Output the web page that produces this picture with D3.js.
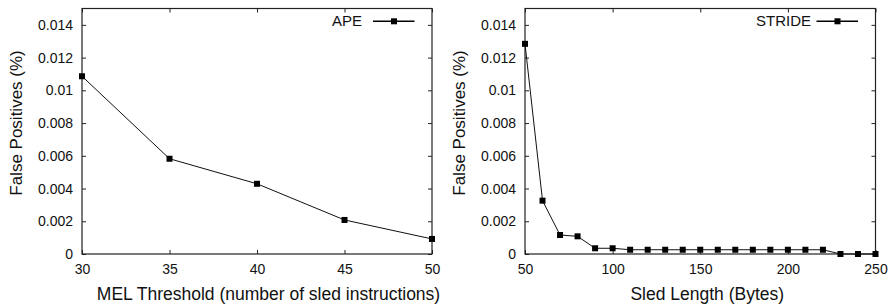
<!DOCTYPE html>
<html lang="en">
<head>
  <meta charset="UTF-8">
  <title>False Positives</title>
  <script src="https://d3js.org/d3.v7.min.js"></script>
  <style>
    body, html { margin: 0; padding: 0; background: #fff; }
    svg { display: block; font-family: 'Liberation Sans', Arial, sans-serif; }
    .tick text { font-size: 14px; fill: #111; }
    .lbl { fill: #111; }
  </style>
</head>
<body>
  <svg id="chart" width="893" height="304"></svg>
  <script>
    // left panel: MEL threshold vs false positives (APE)
    const apeX = [30, 35, 40, 45, 50];
    const apeY = [0.01086, 0.00582, 0.00429, 0.00208, 0.00092];

    // right panel: sled length vs false positives (STRIDE)
    const strideX = [50, 60, 70, 80, 90, 100, 110, 120, 130, 140, 150, 160, 170, 180, 190, 200, 210, 220, 230, 240, 250];
    const strideY = [0.01284, 0.00326, 0.00116, 0.00108, 0.00035, 0.00035, 0.00026, 0.00026, 0.00026, 0.00026,
                     0.00026, 0.00026, 0.00026, 0.00026, 0.00026, 0.00026, 0.00026, 0.00026, 0, 0, 0];

    const yTicks = [0, 0.002, 0.004, 0.006, 0.008, 0.01, 0.012, 0.014];
    const apeTicks = [30, 35, 40, 45, 50];
    const strideTicks = [50, 100, 150, 200, 250];

    const svg = d3.select("#chart");
    const plotTop = 8.5, plotBottom = 254;

    function panel(left, right, xs, ys, xTicks, xDomain, xTitle, titleShift, name, nameGap) {
      const g = svg.append("g");
      const x = d3.scaleLinear().domain(xDomain).range([left, right]);
      const y = d3.scaleLinear().domain([0, 0.015]).range([plotBottom, plotTop]);

      // inward ticks on all four sides (gnuplot mirror style)
      const axB = g.append("g").attr("transform", `translate(0,${plotBottom})`)
        .call(d3.axisBottom(x).tickValues(xTicks).tickSizeInner(-4).tickSizeOuter(0).tickPadding(10).tickFormat(d3.format("d")));
      const axT = g.append("g").attr("transform", `translate(0,${plotTop})`)
        .call(d3.axisTop(x).tickValues(xTicks).tickSizeInner(-4).tickSizeOuter(0).tickFormat(""));
      const axL = g.append("g").attr("transform", `translate(${left},0)`)
        .call(d3.axisLeft(y).tickValues(yTicks).tickSizeInner(-4).tickSizeOuter(0).tickPadding(9).tickFormat(d => d === 0 ? "0" : String(+d.toFixed(3))));
      const axR = g.append("g").attr("transform", `translate(${right},0)`)
        .call(d3.axisRight(y).tickValues(yTicks).tickSizeInner(-4).tickSizeOuter(0).tickFormat(""));
      [axB, axT, axL, axR].forEach(a => {
        a.select(".domain").remove();
        a.selectAll("line").attr("stroke", "#222");
      });

      g.append("rect")
        .attr("x", left).attr("y", plotTop)
        .attr("width", right - left).attr("height", plotBottom - plotTop)
        .attr("fill", "none").attr("stroke", "#222").attr("stroke-width", 1.2);

      const pts = xs.map((v, i) => [v, ys[i]]);
      g.append("path")
        .datum(pts)
        .attr("fill", "none").attr("stroke", "#111").attr("stroke-width", 1)
        .attr("d", d3.line().x(d => x(d[0])).y(d => y(d[1])));

      g.selectAll("rect.pt").data(pts).enter().append("rect")
        .attr("class", "pt")
        .attr("x", d => x(d[0]) - 3).attr("y", d => y(d[1]) - 3)
        .attr("width", 6).attr("height", 6).attr("fill", "#000");

      // legend at upper right
      g.append("line").attr("x1", right - 59).attr("x2", right - 17.5).attr("y1", 21.3).attr("y2", 21.3)
        .attr("stroke", "#000").attr("stroke-width", 1.6);
      g.append("rect").attr("x", right - 41).attr("y", 18.3).attr("width", 6).attr("height", 6).attr("fill", "#000");
      g.append("text").attr("class", "lbl").attr("x", right - nameGap).attr("y", 25.5)
        .attr("text-anchor", "end").style("font-size", "15px").text(name);

      g.append("text").attr("class", "lbl")
        .attr("x", (left + right) / 2 + titleShift).attr("y", 299.5)
        .attr("text-anchor", "middle").style("font-size", "17.5px").text(xTitle);

      g.append("text").attr("class", "lbl")
        .attr("transform", `translate(${left - 60},123) rotate(-90)`)
        .attr("text-anchor", "middle").style("font-size", "17px").text("False Positives (%)");
    }

    panel(82, 432, apeX, apeY, apeTicks, [30, 50], "MEL Threshold (number of sled instructions)", 11.5, "APE", 70);
    panel(525, 875.5, strideX, strideY, strideTicks, [50, 250], "Sled Length (Bytes)", 7, "STRIDE", 64.5);
  </script>
</body>
</html>
